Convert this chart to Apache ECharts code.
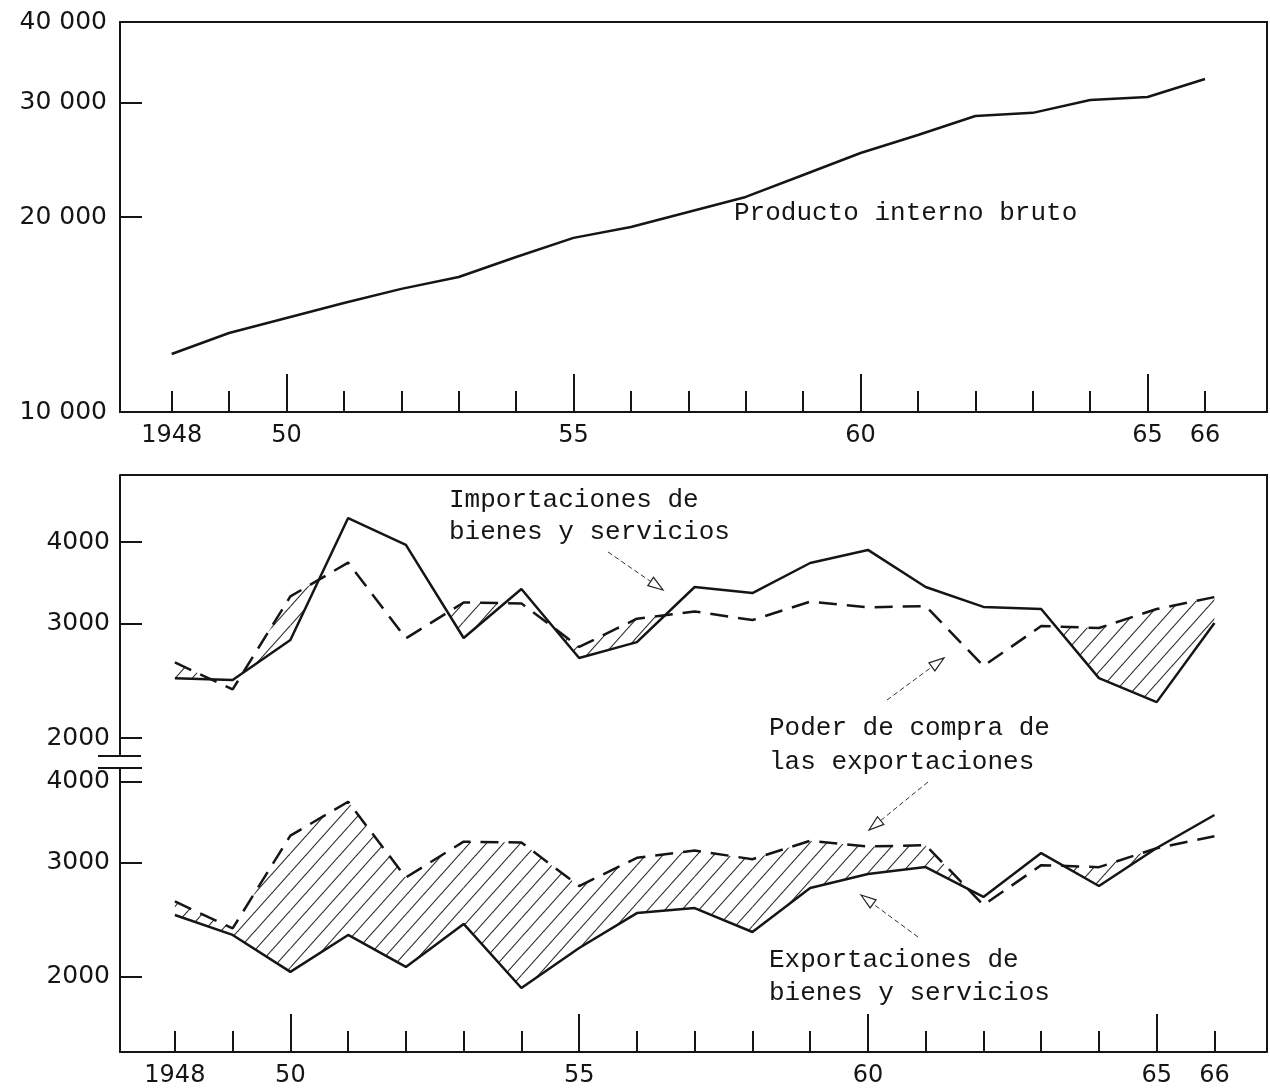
<!DOCTYPE html>
<html><head><meta charset="utf-8">
<script src="https://cdn.jsdelivr.net/npm/echarts@6/dist/echarts.min.js"></script>
<style>html,body{margin:0;padding:0;background:#fff}#c{width:1270px;height:1092px}</style>
</head><body><div id="c"></div>
<script>
// ---------------- data ----------------
const years = [1948,1949,1950,1951,1952,1953,1954,1955,1956,1957,1958,1959,1960,1961,1962,1963,1964,1965,1966];
// Producto interno bruto
const gdp = [12290,13240,13970,14730,15490,16160,17350,18570,19300,20360,21480,23220,25110,26770,28640,28960,30320,30640,32660];
// Importaciones de bienes y servicios
const imports = [2472,2455,2829,4354,3960,2849,3388,2654,2808,3412,3340,3714,3890,3412,3180,3156,2472,2271,3004];
// Poder de compra de las exportaciones
const purchasingPower = [2613,2375,3300,3720,2845,3230,3220,2760,3050,3130,3035,3240,3175,3190,2580,2972,2951,3156,3292];
// Exportaciones de bienes y servicios
const exportsGS = [2491,2321,2036,2321,2072,2413,1923,2216,2508,2553,2345,2740,2880,2952,2655,3102,2760,3158,3550];

const xLabelYears = [1948,1950,1955,1960,1965,1966];
const xMajorTickYears = [1950,1955,1960,1965];
const gdpLabelValues = [10000,20000,30000,40000];
const gdpTickValues = [20000,30000];
const tradeTickValues = [2000,3000,4000];

// ---------------- helpers ----------------
const INK = '#151515';
const labelFont = 'DejaVu Sans, Verdana, sans-serif';
const typeFont = 'Liberation Mono, DejaVu Sans Mono, monospace';

function pairs(arr){ return years.map((y,i)=>[y, arr[i]]); }
function yearLabel(v){ return v === 1948 ? '1948' : String(v).slice(2); }
function spaced(v){ return String(Math.round(v)).replace(/\B(?=(\d{3})+(?!\d))/g,' '); }

function makeHatch(){
  const w = 17, h = 19;
  const c = document.createElement('canvas'); c.width = w; c.height = h;
  const ctx = c.getContext('2d');
  ctx.strokeStyle = '#2a2a2a'; ctx.lineWidth = 1.1;
  [-w, 0, w].forEach(off=>{
    ctx.beginPath(); ctx.moveTo(off - w, 2*h); ctx.lineTo(off + 2*w, -h); ctx.stroke();
  });
  return {image: c, repeat: 'repeat'};
}
const hatch = makeHatch();

// hatch where purchasing power lies above the solid series
function hatchRenderer(solid){
  return function(params, api){
    const i = params.dataIndex;
    if (i >= years.length - 1) return null;
    const A0 = api.coord([years[i], purchasingPower[i]]);
    const A1 = api.coord([years[i+1], purchasingPower[i+1]]);
    const B0 = api.coord([years[i], solid[i]]);
    const B1 = api.coord([years[i+1], solid[i+1]]);
    const d0 = B0[1] - A0[1], d1 = B1[1] - A1[1];
    let pts = null;
    if (d0 >= 0 && d1 >= 0) pts = [A0, A1, B1, B0];
    else if (d0 > 0 || d1 > 0) {
      const f = d0 / (d0 - d1);
      const X = [A0[0] + f*(A1[0]-A0[0]), A0[1] + f*(A1[1]-A0[1])];
      pts = d0 > 0 ? [A0, X, B0] : [X, A1, B1];
    }
    if (!pts) return null;
    return {type:'polygon', shape:{points: pts}, style:{fill: hatch, stroke: null}};
  };
}

function xAxisMain(grid, min, max){
  return {
    type:'value', gridIndex:grid, min:min, max:max, position:'bottom',
    axisLine:{show:true, onZero:false, lineStyle:{color:INK, width:2}},
    axisTick:{show:true, inside:true, length:21, customValues: years, lineStyle:{color:INK, width:2}},
    axisLabel:{show:true, customValues: xLabelYears, formatter: yearLabel, fontSize:24, margin:12,
      color:INK, fontFamily:labelFont},
    splitLine:{show:false}
  };
}
function xAxisMajor(grid, min, max){
  return {
    type:'value', gridIndex:grid, min:min, max:max, position:'bottom',
    axisLine:{show:false},
    axisTick:{show:true, inside:true, length:38, customValues: xMajorTickYears, lineStyle:{color:INK, width:2}},
    axisLabel:{show:false}, splitLine:{show:false}
  };
}
function yAxisLog(grid, min, max, ticks, labels, fmt, fs, margin){
  return {
    type:'log', logBase:10, gridIndex:grid, min:min, max:max,
    axisLine:{show:true, onZero:false, lineStyle:{color:INK, width:2}},
    axisTick:{show:true, inside:true, length:22, customValues: ticks, lineStyle:{color:INK, width:2}},
    axisLabel:{show:true, customValues: labels, formatter: fmt, fontSize:fs, margin:margin,
      color:INK, fontFamily:labelFont},
    splitLine:{show:false}, minorTick:{show:false}, minorSplitLine:{show:false}
  };
}

const lineBase = {type:'line', symbol:'none', showSymbol:false, z:5, silent:true, animation:false};
const solidStyle = {color:INK, width:2.5};
const dashStyle = {color:INK, width:2.5, type:[18,10]};

function arrow(tail, tip){
  const dx = tip[0]-tail[0], dy = tip[1]-tail[1];
  const L = Math.hypot(dx,dy), ux = dx/L, uy = dy/L;
  const len = 15, half = 5;
  const bx = tip[0]-ux*len, by = tip[1]-uy*len;
  return [
    {type:'line', shape:{x1:tail[0], y1:tail[1], x2:bx, y2:by},
      style:{stroke:'#333', lineWidth:1, lineDash:[5,3]}},
    {type:'polygon', shape:{points:[tip,[bx-uy*half, by+ux*half],[bx+uy*half, by-ux*half]]},
      style:{fill:'#fff', stroke:'#222', lineWidth:1.2}}
  ];
}
function txt(x, y, s){
  return {type:'text', x:x, y:y, style:{text:s, fill:INK, font:'26px ' + typeFont,
    textVerticalAlign:'middle', textAlign:'left'}};
}

const graphics = [].concat(
  [{type:'polyline', shape:{points:[[120,475],[1267,475],[1267,1052]]}, style:{stroke:INK, lineWidth:2, fill:null}},
   {type:'line', shape:{x1:98, y1:756, x2:141, y2:756}, style:{stroke:INK, lineWidth:2}},
   {type:'line', shape:{x1:98, y1:768, x2:142, y2:768}, style:{stroke:INK, lineWidth:2}}],
  arrow([608,552],[663,590]),
  arrow([887,700],[944,658]),
  arrow([928,782],[869,830]),
  arrow([918,937],[861,895]),
  [txt(734,213,'Producto interno bruto'),
   txt(449,500,'Importaciones de'), txt(449,532,'bienes y servicios'),
   txt(769,728,'Poder de compra de'), txt(769,762,'las exportaciones'),
   txt(769,960,'Exportaciones de'), txt(769,993,'bienes y servicios')]
);

const chart = echarts.init(document.getElementById('c'), null, {renderer:'canvas'});
chart.setOption({
  animation:false,
  backgroundColor:'#fff',
  grid:[
    {left:120, top:22, width:1147, height:390, show:true, borderColor:INK, borderWidth:2, outerBoundsMode:'none'},
    {left:120, top:475, width:1147, height:281, outerBoundsMode:'none'},
    {left:120, top:768, width:1147, height:284, outerBoundsMode:'none'}
  ],
  xAxis:[
    xAxisMain(0, 1947.1, 1967.08),
    xAxisMajor(0, 1947.1, 1967.08),
    {type:'value', gridIndex:1, min:1947.05, max:1966.91, show:false},
    xAxisMain(2, 1947.05, 1966.91),
    xAxisMajor(2, 1947.05, 1966.91)
  ],
  yAxis:[
    yAxisLog(0, 10000, 40000, gdpTickValues, gdpLabelValues, spaced, 25, 13),
    yAxisLog(1, 1877, 5070, tradeTickValues, tradeTickValues, v=>String(Math.round(v)), 25, 10),
    yAxisLog(2, 1533, 4193, tradeTickValues, tradeTickValues, v=>String(Math.round(v)), 25, 10)
  ],
  series:[
    Object.assign({}, lineBase, {name:'Producto interno bruto', xAxisIndex:0, yAxisIndex:0, data:pairs(gdp), lineStyle:solidStyle}),
    {type:'custom', name:'hatch-imp', xAxisIndex:2, yAxisIndex:1, z:2, silent:true,
      data:pairs(purchasingPower), renderItem:hatchRenderer(imports)},
    Object.assign({}, lineBase, {name:'Importaciones', xAxisIndex:2, yAxisIndex:1, data:pairs(imports), lineStyle:solidStyle}),
    Object.assign({}, lineBase, {name:'Poder de compra', xAxisIndex:2, yAxisIndex:1, data:pairs(purchasingPower), lineStyle:dashStyle}),
    {type:'custom', name:'hatch-exp', xAxisIndex:3, yAxisIndex:2, z:2, silent:true,
      data:pairs(purchasingPower), renderItem:hatchRenderer(exportsGS)},
    Object.assign({}, lineBase, {name:'Exportaciones', xAxisIndex:3, yAxisIndex:2, data:pairs(exportsGS), lineStyle:solidStyle}),
    Object.assign({}, lineBase, {name:'Poder de compra (2)', xAxisIndex:3, yAxisIndex:2, data:pairs(purchasingPower), lineStyle:dashStyle})
  ],
  graphic: graphics
});
</script></body></html>
